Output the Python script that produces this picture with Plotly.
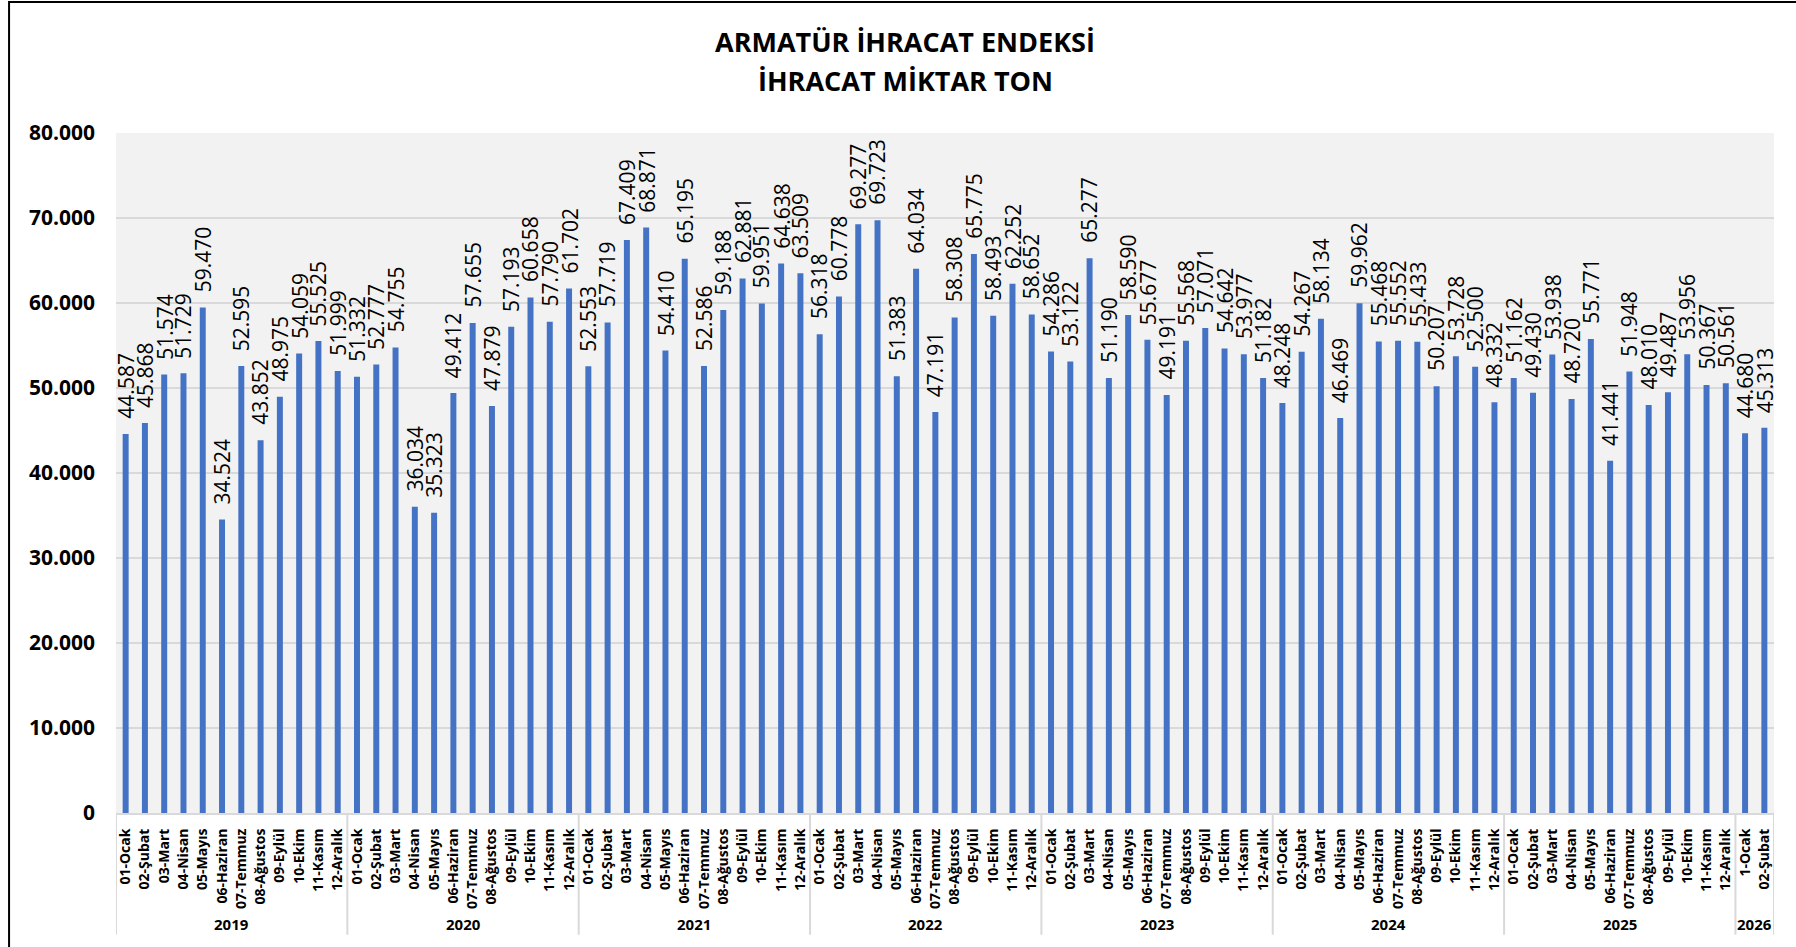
import plotly.graph_objects as go

# Monthly armature export quantity (tonnes)
years = ["2019", "2020", "2021", "2022", "2023", "2024", "2025", "2026"]

month_names = ["01-Ocak", "02-Şubat", "03-Mart", "04-Nisan", "05-Mayıs", "06-Haziran",
               "07-Temmuz", "08-Ağustos", "09-Eylül", "10-Ekim", "11-Kasım", "12-Aralık"]
month_names_2026 = ["1-Ocak", "02-Şubat"]

values_2019 = [44587, 45868, 51574, 51729, 59470, 34524, 52595, 43852, 48975, 54059, 55525, 51999]
values_2020 = [51332, 52777, 54755, 36034, 35323, 49412, 57655, 47879, 57193, 60658, 57790, 61702]
values_2021 = [52553, 57719, 67409, 68871, 54410, 65195, 52586, 59188, 62881, 59951, 64638, 63509]
values_2022 = [56318, 60778, 69277, 69723, 51383, 64034, 47191, 58308, 65775, 58493, 62252, 58652]
values_2023 = [54286, 53122, 65277, 51190, 58590, 55677, 49191, 55568, 57071, 54642, 53977, 51182]
values_2024 = [48248, 54267, 58134, 46469, 59962, 55468, 55552, 55433, 50207, 53728, 52500, 48332]
values_2025 = [51162, 49430, 53938, 48720, 55771, 41441, 51948, 48010, 49487, 53956, 50367, 50561]
values_2026 = [44680, 45313]

yearly_values = [values_2019, values_2020, values_2021, values_2022,
                 values_2023, values_2024, values_2025, values_2026]
yearly_labels = [month_names] * 7 + [month_names_2026]

values = [v for ys in yearly_values for v in ys]
tick_labels = [m for ms in yearly_labels for m in ms]
x_pos = list(range(len(values)))

FONT = "Open Sans"
BAR_COLOR = "#4472C4"
GRID = "#D9D9D9"


def fmt(v):
    return f"{v:,}".replace(",", ".")


fig = go.Figure()
fig.add_trace(go.Bar(
    x=x_pos, y=values, width=0.31,
    marker=dict(color=BAR_COLOR, line=dict(width=0)),
    hoverinfo="skip",
))

annotations = []
# value labels above each bar
for x, v in zip(x_pos, values):
    annotations.append(dict(
        x=x, y=v, xref="x", yref="y", text=fmt(v), textangle=-90,
        showarrow=False, xanchor="center", yanchor="bottom", yshift=13,
        font=dict(family=FONT, size=21, color="#000000"),
    ))

# year group labels and dividers under the month labels
shapes = []
start = 0
for year, ys in zip(years, yearly_values):
    n = len(ys)
    annotations.append(dict(
        x=start + (n - 1) / 2, y=-0.163, xref="x", yref="paper", text=year,
        showarrow=False, xanchor="center", yanchor="middle",
        font=dict(family=FONT, size=15, color="#000000", weight="bold"),
    ))
    shapes.append(dict(type="line", xref="x", yref="paper",
                       x0=start - 0.5, x1=start - 0.5, y0=0, y1=-0.179,
                       line=dict(color=GRID, width=2)))
    start += n
shapes.append(dict(type="line", xref="x", yref="paper",
                   x0=start - 0.5, x1=start - 0.5, y0=0, y1=-0.179,
                   line=dict(color=GRID, width=2)))

# chart frame
shapes.append(dict(type="rect", xref="paper", yref="paper",
                   x0=-0.0645, x1=1.05, y0=-0.25, y1=1.1926,
                   line=dict(color="#000000", width=2), fillcolor="rgba(0,0,0,0)"))

# two-line title
annotations.append(dict(
    x=0.476, y=1.135, xref="paper", yref="paper", text="ARMATÜR İHRACAT ENDEKSİ",
    showarrow=False, xanchor="center", yanchor="middle",
    font=dict(family=FONT, size=27, color="#000000", weight="bold"),
))
annotations.append(dict(
    x=0.476, y=1.0765, xref="paper", yref="paper", text="İHRACAT MİKTAR TON",
    showarrow=False, xanchor="center", yanchor="middle",
    font=dict(family=FONT, size=27, color="#000000", weight="bold"),
))

fig.update_layout(
    width=1796, height=947, autosize=False,
    margin=dict(l=116, r=22, t=133, b=134),
    paper_bgcolor="#FFFFFF", plot_bgcolor="#F2F2F2",
    separators=",.",
    showlegend=False,
    annotations=annotations,
    shapes=shapes,
    xaxis=dict(
        range=[-0.5, len(values) - 0.5],
        tickmode="array", tickvals=x_pos, ticktext=tick_labels,
        tickangle=-90, ticks="", ticklabelstandoff=8,
        tickfont=dict(family=FONT, size=14, color="#000000", weight="bold"),
        showgrid=False, zeroline=False,
        showline=True, linecolor=GRID, linewidth=2,
    ),
    yaxis=dict(
        range=[0, 80000], dtick=10000, tickformat=",d",
        ticks="", ticklabelstandoff=20,
        tickfont=dict(family=FONT, size=21, color="#000000", weight="bold"),
        showgrid=True, gridcolor=GRID, gridwidth=2,
        zeroline=False, showline=False,
    ),
)

fig.write_html("out.html")
